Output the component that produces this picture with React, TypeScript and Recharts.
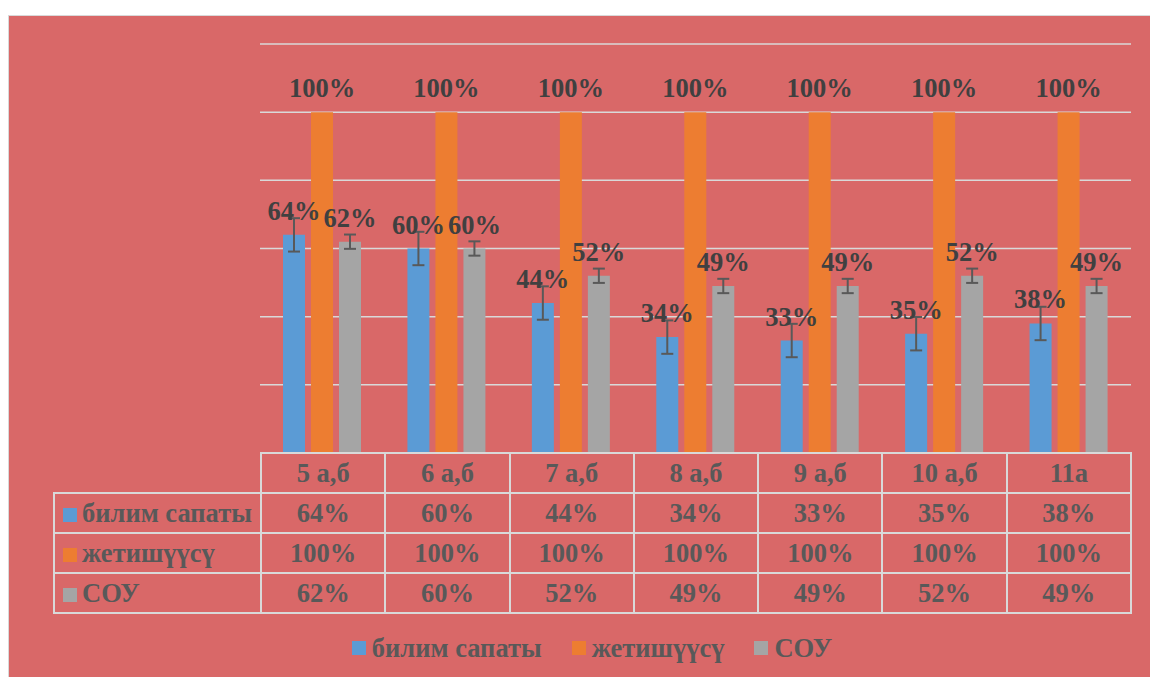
import React from 'react';
import { BarChart, Bar, XAxis, YAxis, CartesianGrid, ErrorBar, LabelList, Legend } from 'recharts';

const categories = ['5 а,б', '6 а,б', '7 а,б', '8 а,б', '9 а,б', '10 а,б', '11а'];
const bilimSapaty = [64, 60, 44, 34, 33, 35, 38];
const jetishuusu = [100, 100, 100, 100, 100, 100, 100];
const sou = [62, 60, 52, 49, 49, 52, 49];
const bilimErr = [4.9, 4.9, 4.9, 4.9, 4.9, 4.9, 4.9];
const jetishErr = [0, 0, 0, 0, 0, 0, 0];
const souErr = [2.1, 2.1, 2.1, 2.1, 2.1, 2.1, 2.1];
const yTicks = [0, 20, 40, 60, 80, 100, 120];

const seriesNames = ['билим сапаты', 'жетишүүсү', 'СОУ'];
const seriesColors = ['#5B9BD5', '#ED7D31', '#A5A5A5'];
const seriesValues = [bilimSapaty, jetishuusu, sou];

const chartData = categories.map((cat, i) => ({
  cat,
  bilim: bilimSapaty[i],
  jetish: jetishuusu[i],
  sou: sou[i],
  bilimErr: bilimErr[i],
  jetishErr: jetishErr[i],
  souErr: souErr[i],
}));

const BG = '#D96868';
const LINE = '#D9D9D9';
const FONT = '"Liberation Serif", "Times New Roman", serif';
const FS = 26.5;
const pct = (v: any) => `${v}%`;

const labelProps = {
  position: 'top' as const,
  offset: 15,
  formatter: pct,
  fill: '#404040',
  fontSize: FS,
  fontWeight: 700,
  fontFamily: FONT,
};

// keep legend in series order
const LegendContent = ({ payload }: any) => {
  const items = [...(payload || [])].sort(
    (a: any, b: any) => seriesNames.indexOf(a.value) - seriesNames.indexOf(b.value)
  );
  return (
    <div style={{ display: 'flex', justifyContent: 'center', gap: 30, fontFamily: FONT, fontWeight: 700, fontSize: FS, color: '#595959', lineHeight: '30px' }}>
      {items.map((e: any) => (
        <span key={e.value} style={{ display: 'flex', alignItems: 'center' }}>
          <span style={{ width: 14, height: 14, background: e.color, marginRight: 6, display: 'inline-block' }} />
          <span>{e.value}</span>
        </span>
      ))}
    </div>
  );
};

const cellStyle: React.CSSProperties = {
  border: `2px solid ${LINE}`,
  padding: 0,
  textAlign: 'center',
  verticalAlign: 'middle',
  height: 38,
};

export default function App() {
  return (
    <div
      style={{
        position: 'fixed',
        left: 8,
        top: 15,
        right: 0,
        bottom: 0,
        background: BG,
        borderLeft: `1px solid ${LINE}`,
        borderTop: `1px solid ${LINE}`,
        overflow: 'hidden',
      }}
    >
      <div style={{ position: 'relative', width: 1141, height: 661 }}>
        <BarChart
          width={1141}
          height={661}
          data={chartData}
          margin={{ top: 28, right: 19, left: 251, bottom: 224 }}
          barSize={22}
          barGap={6}
        >
          <CartesianGrid vertical={false} stroke={LINE} strokeWidth={1.5} />
          <XAxis dataKey="cat" hide />
          <YAxis hide domain={[0, 120]} ticks={yTicks} />
          <Legend
            content={<LegendContent />}
            verticalAlign="middle"
            align="center"
            wrapperStyle={{ position: 'absolute', left: 44, top: 617, width: 1078, height: 30 }}
          />
          <Bar dataKey="bilim" name={seriesNames[0]} fill={seriesColors[0]} isAnimationActive={false}>
            <LabelList dataKey="bilim" {...labelProps} />
            <ErrorBar dataKey="bilimErr" direction="y" width={6} strokeWidth={2} stroke="#595959" />
          </Bar>
          <Bar dataKey="jetish" name={seriesNames[1]} fill={seriesColors[1]} isAnimationActive={false}>
            <LabelList dataKey="jetish" {...labelProps} />
            <ErrorBar dataKey="jetishErr" direction="y" width={6} strokeWidth={3} stroke="#595959" />
          </Bar>
          <Bar dataKey="sou" name={seriesNames[2]} fill={seriesColors[2]} isAnimationActive={false}>
            <LabelList dataKey="sou" {...labelProps} />
            <ErrorBar dataKey="souErr" direction="y" width={6} strokeWidth={2} stroke="#595959" />
          </Bar>
        </BarChart>

        {/* data table under the plot */}
        <table
          style={{
            position: 'absolute',
            left: 44,
            top: 436,
            width: 1079,
            borderCollapse: 'collapse',
            tableLayout: 'fixed',
            fontFamily: FONT,
            fontWeight: 700,
            fontSize: FS,
            color: '#595959',
          }}
        >
          <colgroup>
            <col style={{ width: 207 }} />
            {categories.map((c) => (
              <col key={c} />
            ))}
          </colgroup>
          <tbody>
            <tr>
              <td style={{ ...cellStyle, border: 'none', borderBottom: `2px solid ${LINE}` }} />
              {categories.map((c) => (
                <td key={c} style={cellStyle}>{c}</td>
              ))}
            </tr>
            {seriesNames.map((name, si) => (
              <tr key={name}>
                <td style={{ ...cellStyle, textAlign: 'left', whiteSpace: 'nowrap' }}>
                  <span style={{ display: 'inline-block', width: 14, height: 14, background: seriesColors[si], marginLeft: 8, marginRight: 5 }} />
                  {name}
                </td>
                {seriesValues[si].map((v, i) => (
                  <td key={i} style={cellStyle}>{pct(v)}</td>
                ))}
              </tr>
            ))}
          </tbody>
        </table>
      </div>
    </div>
  );
}
